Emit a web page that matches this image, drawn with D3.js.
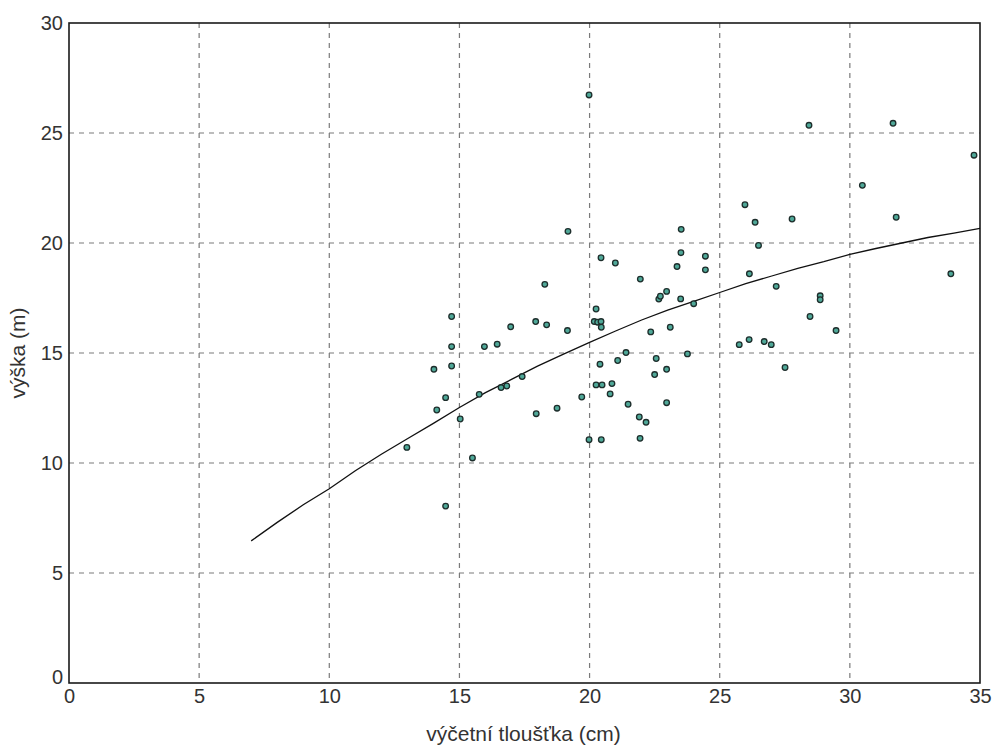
<!DOCTYPE html>
<html>
<head>
<meta charset="utf-8">
<script src="https://cdn.jsdelivr.net/npm/d3@7"></script>
<style>
  html, body { margin: 0; padding: 0; background: #ffffff; }
  svg { display: block; }
  text { font-family: Arial, "Liberation Sans", sans-serif; fill: #333; }
</style>
</head>
<body>
<svg id="chart" width="997" height="752"></svg>
<script>
// Measured trees: diameter at breast height (cm) and tree height (m)
const dbh = [
  12.98, 14.02, 14.13, 14.47, 14.47, 14.70, 14.70, 14.70, 15.03, 15.50,
  15.76, 15.96, 16.45, 16.60, 16.82, 16.97, 17.41, 17.93, 17.95, 18.28,
  18.35, 18.75, 19.15, 19.17, 19.70, 19.98, 19.98, 20.25, 20.18, 20.31,
  20.44, 20.45, 20.40, 20.25, 20.48, 20.44, 20.45, 20.86, 20.79, 21.08,
  20.99, 21.40, 21.48, 21.91, 21.95, 22.17, 21.94, 22.35, 22.50, 22.56,
  22.66, 22.72, 22.96, 22.96, 22.96, 23.10, 23.36, 23.51, 23.52, 23.50,
  23.76, 24.00, 24.45, 24.45, 25.75, 25.97, 26.13, 26.14, 26.36, 26.49,
  26.71, 26.98, 27.17, 27.51, 27.78, 28.43, 28.47, 28.86, 28.86, 29.47,
  30.48, 31.66, 31.78, 33.88, 34.77
];
const height = [
  10.71, 14.26, 12.41, 12.97, 8.04, 16.66, 15.29, 14.41, 12.00, 10.23,
  13.12, 15.29, 15.40, 13.43, 13.50, 16.19, 13.93, 16.43, 12.24, 18.12,
  16.28, 12.49, 16.02, 20.53, 13.00, 26.73, 11.06, 17.00, 16.43, 16.40,
  16.43, 16.17, 14.49, 13.55, 13.55, 19.33, 11.06, 13.61, 13.14, 14.66,
  19.09, 15.02, 12.67, 12.09, 18.36, 11.85, 11.12, 15.96, 14.02, 14.75,
  17.45, 17.58, 17.80, 14.26, 12.74, 16.17, 18.93, 19.56, 20.62, 17.46,
  14.96, 17.24, 19.40, 18.78, 15.38, 21.74, 15.61, 18.60, 20.94, 19.89,
  15.52, 15.38, 18.03, 14.34, 21.09, 25.35, 16.66, 17.60, 17.42, 16.02,
  22.62, 25.44, 21.17, 18.60, 23.99
];

// Height curve (fitted height-diameter relationship)
const curveDbh = [7, 8, 9, 10, 11, 12, 13, 14, 15, 16, 17, 18, 19, 20, 21, 22, 23, 24, 25, 26, 27, 28, 29, 30, 31, 32, 33, 34, 35];
const curveHeight = [6.46, 7.30, 8.10, 8.83, 9.65, 10.40, 11.10, 11.80, 12.52, 13.20, 13.80, 14.40, 14.95, 15.48, 16.00, 16.50, 16.95, 17.35, 17.75, 18.15, 18.50, 18.85, 19.15, 19.48, 19.75, 20.00, 20.25, 20.45, 20.66];

const xTicks = [0, 5, 10, 15, 20, 25, 30, 35];
const yTicks = [0, 5, 10, 15, 20, 25, 30];
const xTitle = "výčetní tloušťka (cm)";
const yTitle = "výška (m)";

const svg = d3.select("#chart");
const plot = { left: 69, right: 980, top: 23, bottom: 683 };

const x = d3.scaleLinear().domain([0, 35]).range([plot.left, plot.right]);
const y = d3.scaleLinear().domain([0, 30]).range([plot.bottom, plot.top]);

// Dashed grid
const grid = svg.append("g");
grid.selectAll("line.vx")
  .data(xTicks.filter(d => d > 0 && d < 35))
  .join("line")
  .attr("x1", d => x(d)).attr("x2", d => x(d))
  .attr("y1", plot.top).attr("y2", plot.bottom)
  .attr("stroke", "#7a7a7a").attr("stroke-width", 1.2)
  .attr("stroke-dasharray", "5,5");
grid.selectAll("line.hy")
  .data(yTicks.filter(d => d > 0 && d < 30))
  .join("line")
  .attr("x1", plot.left).attr("x2", plot.right)
  .attr("y1", d => y(d)).attr("y2", d => y(d))
  .attr("stroke", "#7a7a7a").attr("stroke-width", 1.2)
  .attr("stroke-dasharray", "5,5");

// Axes (labels only; the frame is drawn as a box)
const xAxis = d3.axisBottom(x).tickValues(xTicks).tickSize(0).tickPadding(6).tickFormat(d3.format("d"));
const yAxis = d3.axisLeft(y).tickValues(yTicks).tickSize(0).tickPadding(6).tickFormat(d3.format("d"));

const gx = svg.append("g").attr("transform", `translate(0,${plot.bottom})`).call(xAxis);
const gy = svg.append("g").attr("transform", `translate(${plot.left},0)`).call(yAxis);
[gx, gy].forEach(g => {
  g.select(".domain").remove();
  g.selectAll("text")
    .style("font-family", "Arial, 'Liberation Sans', sans-serif")
    .style("font-size", "20px")
    .attr("fill", "#333");
});
gy.selectAll(".tick").filter(d => d === 0).select("text").attr("dy", "0.0em");

// Frame
svg.append("rect")
  .attr("x", plot.left).attr("y", plot.top)
  .attr("width", plot.right - plot.left).attr("height", plot.bottom - plot.top)
  .attr("fill", "none").attr("stroke", "#1a1a1a").attr("stroke-width", 1.6);

// Fitted curve
const line = d3.line().x((d, i) => x(curveDbh[i])).y(d => y(d));
svg.append("path")
  .datum(curveHeight)
  .attr("d", line)
  .attr("fill", "none")
  .attr("stroke", "#111")
  .attr("stroke-width", 1.3);

// Observations
svg.append("g").selectAll("circle")
  .data(dbh.map((d, i) => [d, height[i]]))
  .join("circle")
  .attr("cx", d => x(d[0]))
  .attr("cy", d => y(d[1]))
  .attr("r", 2.8)
  .attr("fill", "#4fa898")
  .attr("stroke", "#1d2d2b")
  .attr("stroke-width", 1.3);

// Axis titles
svg.append("text")
  .attr("x", (plot.left + plot.right) / 2 - 1)
  .attr("y", 741)
  .attr("text-anchor", "middle")
  .style("font-size", "21px")
  .text(xTitle);

svg.append("text")
  .attr("transform", `translate(25,${(plot.top + plot.bottom) / 2}) rotate(-90)`)
  .attr("text-anchor", "middle")
  .style("font-size", "21px")
  .text(yTitle);
</script>
</body>
</html>
